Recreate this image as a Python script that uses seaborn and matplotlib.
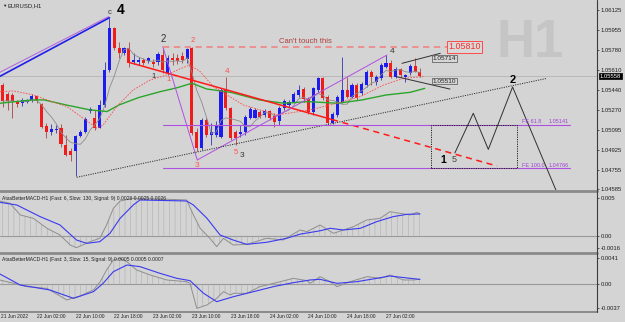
import numpy as np
import pandas as pd
import matplotlib
matplotlib.use("Agg")
import matplotlib.pyplot as plt
from matplotlib.lines import Line2D
from matplotlib.patches import Rectangle
import seaborn as sns

# ------------------------------------------------------------------ data
opens = [1.05481, 1.05401, 1.05396, 1.05333, 1.05324, 1.05333, 1.05353, 1.05387, 1.05317, 1.05130,
         1.05075, 1.05095, 1.05110, 1.04967, 1.04915, 1.04918, 1.05044, 1.05075, 1.05258, 1.05201,
         1.05115, 1.05310, 1.05610, 1.05973, 1.05802, 1.05753, 1.05796, 1.05682, 1.05676, 1.05696,
         1.05687, 1.05682, 1.05682, 1.05739, 1.05582, 1.05716, 1.05710, 1.05733, 1.05704, 1.05796,
         1.05081, 1.04938, 1.05181, 1.05052, 1.05052, 1.05038, 1.05438, 1.05281, 1.05081, 1.05058,
         1.05075, 1.05195, 1.05201, 1.05252, 1.05224, 1.05258, 1.05218, 1.05172, 1.05281, 1.05309,
         1.05338, 1.05395, 1.05447, 1.05361, 1.05252, 1.05438, 1.05538, 1.05381, 1.05152, 1.05224,
         1.05338, 1.05438, 1.05381, 1.05481, 1.05410, 1.05481, 1.05595, 1.05510, 1.05538, 1.05638,
         1.05667, 1.05553, 1.05615, 1.05553, 1.05581, 1.05647, 1.05590]
highs = [1.05496, 1.05424, 1.05410, 1.05353, 1.05367, 1.05361, 1.05401, 1.05396, 1.05324, 1.05153,
         1.05147, 1.05138, 1.05144, 1.05052, 1.04944, 1.05052, 1.05095, 1.05210, 1.05296, 1.05267,
         1.05353, 1.05682, 1.06059, 1.05982, 1.05853, 1.05810, 1.05853, 1.05753, 1.05725, 1.05716,
         1.05725, 1.05704, 1.05767, 1.05810, 1.05739, 1.05753, 1.05745, 1.05767, 1.05802, 1.05810,
         1.05110, 1.05195, 1.05195, 1.05152, 1.05172, 1.05452, 1.05553, 1.05295, 1.05095, 1.05138,
         1.05224, 1.05295, 1.05281, 1.05267, 1.05275, 1.05267, 1.05238, 1.05304, 1.05361, 1.05352,
         1.05418, 1.05481, 1.05467, 1.05381, 1.05467, 1.05553, 1.05553, 1.05395, 1.05246, 1.05395,
         1.05724, 1.05553, 1.05495, 1.05495, 1.05510, 1.05610, 1.05610, 1.05567, 1.05667, 1.05738,
         1.05696, 1.05638, 1.05630, 1.05573, 1.05658, 1.05710, 1.05624]
lows = [1.05296, 1.05267, 1.05195, 1.05296, 1.05304, 1.05324, 1.05338, 1.05324, 1.05110, 1.05024,
        1.05052, 1.05067, 1.04952, 1.04867, 1.04829, 1.04695, 1.05038, 1.05067, 1.05238, 1.05095,
        1.05110, 1.05296, 1.05596, 1.05782, 1.05710, 1.05739, 1.05639, 1.05659, 1.05653, 1.05653,
        1.05667, 1.05639, 1.05653, 1.05582, 1.05567, 1.05653, 1.05659, 1.05667, 1.05667, 1.05052,
        1.04915, 1.04924, 1.05038, 1.04966, 1.05038, 1.05029, 1.05267, 1.05009, 1.04966, 1.05038,
        1.05052, 1.05189, 1.05195, 1.05195, 1.05209, 1.05181, 1.05124, 1.05138, 1.05267, 1.05295,
        1.05324, 1.05381, 1.05338, 1.05229, 1.05224, 1.05424, 1.05352, 1.05138, 1.05144, 1.05209,
        1.05324, 1.05367, 1.05367, 1.05352, 1.05395, 1.05467, 1.05481, 1.05481, 1.05524, 1.05624,
        1.05538, 1.05538, 1.05553, 1.05510, 1.05567, 1.05590, 1.05553]
closes = [1.05344, 1.05344, 1.05344, 1.05317, 1.05353, 1.05344, 1.05387, 1.05344, 1.05124, 1.05075,
          1.05104, 1.05104, 1.04972, 1.04881, 1.04881, 1.05044, 1.05081, 1.05190, 1.05276, 1.05110,
          1.05310, 1.05610, 1.05968, 1.05796, 1.05753, 1.05796, 1.05667, 1.05696, 1.05693, 1.05667,
          1.05710, 1.05659, 1.05745, 1.05610, 1.05710, 1.05696, 1.05687, 1.05696, 1.05787, 1.05067,
          1.04938, 1.05181, 1.05052, 1.05081, 1.05138, 1.05438, 1.05281, 1.05023, 1.05023, 1.05081,
          1.05209, 1.05275, 1.05267, 1.05209, 1.05258, 1.05195, 1.05161, 1.05287, 1.05344, 1.05338,
          1.05401, 1.05438, 1.05361, 1.05246, 1.05452, 1.05538, 1.05372, 1.05152, 1.05229, 1.05381,
          1.05438, 1.05381, 1.05481, 1.05367, 1.05487, 1.05595, 1.05553, 1.05553, 1.05653, 1.05673,
          1.05553, 1.05615, 1.05567, 1.05567, 1.05647, 1.05595, 1.05558]

# slow moving average (green): bar index / price
green_idx = [-0.6, 6, 8.5, 13, 18, 21.5, 24, 28, 32.5, 36, 39, 42, 47, 53, 58, 63, 69, 74, 79, 84, 87]
green_val = [1.05324, 1.05353, 1.05353, 1.05310, 1.05267, 1.05253, 1.05310, 1.05373, 1.05424, 1.05458,
             1.05496, 1.05447, 1.05418, 1.05352, 1.05324, 1.05338, 1.05324, 1.05352, 1.05395, 1.05418,
             1.05452]
# red dotted average
reddot_idx = [-0.6, 2.2, 6.3, 9.7, 13.2, 16.6, 19.4, 20.7, 23.5, 26.9, 30.4, 33.8, 36.5, 38.6, 40.7,
              43.4, 49.6, 56.5, 63.4, 68.9, 73.7, 78.5, 82.6, 86.7]
reddot_val = [1.05424, 1.05430, 1.05396, 1.05344, 1.05296, 1.05195, 1.05110, 1.05138, 1.05296, 1.05439,
              1.05524, 1.05567, 1.05619, 1.05653, 1.05596, 1.05467, 1.05309, 1.05224, 1.05267, 1.05324,
              1.05381, 1.05481, 1.05538, 1.05553]
fast_ma_period = 5

# MACD (6,130,9)
m1_sig_idx = [-0.6, 2.9, 7.7, 11.8, 15.2, 17.3, 20.0, 22.1, 24.2, 26.9, 28.3, 37.9, 39.3, 42.1, 44.8,
              47.5, 50.3, 54.4, 58.5, 61.3, 65.4, 67.5, 70.2, 73.7, 77.1, 80.5, 83.3, 86.0]
m1_sig_val = [0.00439, 0.00404, 0.00251, 0.00141, -0.00057, -0.00101, -0.00079, 0.00031, 0.00229, 0.00404,
              0.00470, 0.00457, 0.00404, 0.00229, 0.00009, -0.00057, -0.00114, -0.00087, -0.00035, 0.00020,
              0.00064, 0.00097, 0.00075, 0.00097, 0.00185, 0.00251, 0.00281, 0.00286]
m1_main_idx = [-0.6, 1.5, 3.6, 6.3, 9.1, 11.8, 13.9, 15.2, 18.0, 20.0, 21.4, 22.8, 24.2, 26.9, 32.4,
               37.9, 39.3, 40.7, 42.7, 44.1, 45.5, 47.5, 50.3, 54.4, 57.8, 61.3, 62.7, 65.4, 68.2, 70.2,
               72.3, 75.0, 77.8, 79.8, 81.9, 84.0, 85.4, 86.0]
m1_main_val = [0.00457, 0.00426, 0.00273, 0.00229, 0.00097, 0.00009, -0.00123, -0.00158, -0.00079, -0.00035,
               0.00141, 0.00360, 0.00457, 0.00492, 0.00483, 0.00470, 0.00273, 0.00097, -0.00035, -0.00144,
               -0.00035, -0.00123, -0.00114, -0.00035, -0.00057, 0.00075, 0.00053, 0.00141, 0.00031, 0.00075,
               0.00119, 0.00206, 0.00229, 0.00316, 0.00294, 0.00273, 0.00308, 0.00286]

# MACD (3,15,9)
m2_sig_idx = [-0.6, 3.6, 9.7, 14.6, 18.7, 20.7, 22.8, 25.6, 28.3, 32.4, 35.9, 38.6, 41.4, 44.1, 47.6,
              51.7, 55.8, 59.9, 63.4, 65.4, 68.9, 73.0, 77.1, 79.8, 84.0, 86.0]
m2_sig_val = [0.00158, -0.00011, -0.00087, -0.00215, -0.00113, 0.00015, 0.00193, 0.00295, 0.00270, 0.00168,
              0.00091, 0.00056, -0.00138, -0.00266, -0.00189, -0.00113, -0.00036, 0.00025, 0.00066, 0.00076,
              0.00015, 0.00040, 0.00091, 0.00127, 0.00091, 0.00076]
m2_main_idx = [-0.6, 2.2, 4.9, 9.1, 13.2, 15.9, 18.7, 20.1, 21.4, 22.8, 24.2, 25.6, 27.6, 30.4, 33.8,
               37.9, 38.6, 40.0, 42.1, 44.1, 45.5, 46.9, 47.6, 50.3, 53.0, 57.2, 59.9, 62.7, 63.4, 65.4,
               67.5, 68.9, 71.6, 75.1, 77.8, 79.8, 82.6, 84.6, 86.0]
m2_main_val = [0.00066, 0.00015, -0.00036, -0.00062, -0.00240, -0.00179, -0.00087, 0.00040, 0.00219, 0.00372,
               0.00397, 0.00346, 0.00219, 0.00142, 0.00066, 0.00040, 0.00015, -0.00368, -0.00317, -0.00215,
               -0.00113, -0.00164, -0.00138, -0.00138, -0.00036, 0.00040, 0.00091, 0.00056, 0.00015, 0.00117,
               0.00040, -0.00036, 0.00040, 0.00117, 0.00091, 0.00142, 0.00066, 0.00066, 0.00076]

time_tick_pos = [-0.45, 7, 15, 23, 31, 39, 47, 55, 63, 71, 79]
time_tick_lab = ["21 Jun 2022", "22 Jun 02:00", "22 Jun 10:00", "22 Jun 18:00", "23 Jun 02:00",
                 "23 Jun 10:00", "23 Jun 18:00", "24 Jun 02:00", "24 Jun 10:00", "24 Jun 18:00",
                 "27 Jun 02:00"]
price_ticks = [1.06125, 1.05955, 1.05780, 1.05610, 1.05440, 1.05270, 1.05095, 1.04925, 1.04755, 1.04585]
m1_ticks = [0.005, 0.0, -0.0016]
m1_tick_lab = ["0.005", "0.00", "-0.0016"]
m2_ticks = [0.0041, 0.0, -0.0037]
m2_tick_lab = ["0.0041", "0.00", "-0.0037"]

last_price = 1.05558
resist_price = 1.05810
fe618_price = 1.05141
fe100_price = 1.04766
chan_hi_price = 1.05714
chan_lo_price = 1.05510
macd1_text = "AtasBetterMACD-H1 (Fast: 6, Slow: 130, Signal: 9) 0.0026 0.0025 0.0026"
macd2_text = "AtasBetterMACD-H1 (Fast: 3, Slow: 15, Signal: 9) 0.0005 0.0005 0.0007"

# drawn objects (bar index, price)
line_c_blue = ([-0.6, 22.0], [1.05555, 1.06059])
line_c_purple = ([-0.6, 21.8], [1.05590, 1.06068])
red_trend_solid = ([25.8, 67.9], [1.05678, 1.05184])
red_trend_dash = ([67.9, 101.9], [1.05184, 1.04785])
purple_down = ([33.0, 40.1], [1.05810, 1.04837])
purple_up = ([40.1, 79.2], [1.04837, 1.05738])
black_dotted = ([15.25, 112.2], [1.04688, 1.05538])
chan_hi_line = ([82.3, 90.2], [1.05667, 1.05753])
chan_lo_line = ([81.2, 92.2], [1.05552, 1.05446])
zigzag = ([93.2, 97.0, 100.1, 105.1, 114.9], [1.04897, 1.05238, 1.04928, 1.05464, 1.04493])
box_span = (88.2, 106.1)

# ------------------------------------------------------------------ style
sns.set_style("white")
BG = "#d4d4d4"
plt.rcParams["font.family"] = ["Liberation Sans", "DejaVu Sans"]
plt.rcParams["hatch.linewidth"] = 0.35
plt.rcParams["axes.facecolor"] = BG
plt.rcParams["figure.facecolor"] = BG

W, H = 625, 322
fig = plt.figure(figsize=(W / 100, H / 100), dpi=100)


def rect(x0, y0, x1, y1):
    return [x0 / W, 1 - y1 / H, (x1 - x0) / W, (y1 - y0) / H]


XR = 596.5
ax = fig.add_axes(rect(0, 0, XR, 190))
ax1 = fig.add_axes(rect(0, 193, XR, 252))
ax2 = fig.add_axes(rect(0, 254.5, XR, 311))
xlim = (-0.567, 122.4)
for a in (ax, ax1, ax2):
    a.set_facecolor(BG)
    a.set_xlim(*xlim)
    for s in a.spines.values():
        s.set_visible(False)
    a.yaxis.tick_right()
    a.tick_params(axis="y", which="both", length=1.6, width=0.5, pad=1.5,
                  labelsize=4.2, colors="#202020")
    a.tick_params(axis="x", which="both", length=0)
    a.set_xticks([])

ax.set_ylim(1.04579, 1.06211)
ax1.set_ylim(-0.00215, 0.00562)
ax2.set_ylim(-0.00409, 0.00456)

# ---------------- main price panel
idx = np.arange(len(closes))
df = pd.DataFrame({"i": idx, "o": opens, "h": highs, "l": lows, "c": closes})
df["bull"] = df["c"] >= df["o"]
df["ma_fast"] = df["c"].rolling(fast_ma_period, min_periods=1).mean()

# H1 watermark
ax.text(0.8885, 0.776, "H1", transform=ax.transAxes, fontsize=38, fontweight="bold",
        color="#c5c5c5", ha="center", va="center", zorder=0)

ax.axhline(last_price, color="#b4b4b4", lw=0.6, zorder=1)

bull_col, bear_col = "#1c1cf0", "#f01c1c"
wick_cols = np.where(df["bull"], "#3434b0", "#a84444")
ax.vlines(df["i"], df["l"], df["h"], colors=wick_cols, lw=0.6, zorder=2)
body_h = (df["c"] - df["o"]).where((df["c"] - df["o"]).abs() > 0.00003,
                                   np.sign(df["c"] - df["o"] + 1e-12) * 0.00003)
ax.bar(df["i"], body_h, bottom=df["o"], width=0.64,
       color=np.where(df["bull"], bull_col, bear_col), linewidth=0, zorder=2.2)

sns.lineplot(x=green_idx, y=green_val, ax=ax, color="#2aa52a", lw=1.0, zorder=2.5,
             estimator=None)
ax.plot(reddot_idx, reddot_val, color="#ff4a4a", lw=0.6, ls=(0, (2, 1.5)), zorder=2.5)
sns.lineplot(x=df["i"], y=df["ma_fast"], ax=ax, color="#8c8c8c", lw=0.6, zorder=2.4,
             estimator=None)

# drawn objects
ax.plot(*line_c_purple, color="#b060e0", lw=0.7, zorder=3)
ax.plot(*line_c_blue, color="#2020e8", lw=1.2, zorder=3)
ax.plot(*red_trend_solid, color="#ff1a1a", lw=1.1, zorder=3)
ax.plot(*red_trend_dash, color="#ff1a1a", lw=1.1, ls=(0, (4, 3)), zorder=3)
ax.plot(*purple_down, color="#b050e0", lw=0.7, zorder=3)
ax.plot(*purple_up, color="#b050e0", lw=0.7, zorder=3)
ax.plot(*black_dotted, color="#303030", lw=0.7, ls=(0, (1.2, 1.2)), zorder=3)
ax.plot([33.0, 91.5], [resist_price] * 2, color="#ee8a8a", lw=1.3, ls=(0, (3.5, 2.5)), zorder=3)
ax.plot([33.0, 117], [fe618_price] * 2, color="#b050e0", lw=0.8, zorder=3)
ax.plot([33.0, 117], [fe100_price] * 2, color="#b050e0", lw=0.8, zorder=3)
ax.add_patch(Rectangle((box_span[0], fe100_price), box_span[1] - box_span[0],
                       fe618_price - fe100_price, fill=False, ec="#202020", lw=0.7,
                       ls=(0, (1.2, 1.2)), zorder=3))
ax.plot(*zigzag, color="#303030", lw=0.7, zorder=3)
ax.plot(*chan_hi_line, color="#303030", lw=0.7, zorder=3)
ax.plot(*chan_lo_line, color="#303030", lw=0.7, zorder=3)

ax.text(62.3, 1.05853, "Can't touch this", fontsize=5.5, color="#b03c3c", ha="center",
        va="center", zorder=4)
ax.text(95.25, resist_price, f"{resist_price:.5f}", fontsize=6.4, color="#ff2a2a", ha="center",
        va="center", zorder=4,
        bbox=dict(boxstyle="square,pad=0.15", fc="#d9d9d9", ec="#ff4a4a", lw=0.7))
for p in (chan_hi_price, chan_lo_price):
    yy = p - 0.00006 if p == chan_hi_price else p + 0.00005
    ax.text(91.1, yy, f"{p:.5f}", fontsize=4.6, color="#202020", ha="center", va="center",
            zorder=4, bbox=dict(boxstyle="square,pad=0.15", fc="#d6d6d6", ec="#505050", lw=0.5))

for p, lab in ((fe618_price, "FE 61.8"), (fe100_price, "FE 100.0")):
    ax.text(107.0, p + 0.00002, lab, fontsize=4.0, color="#a040d8", ha="left", va="bottom", zorder=4)
    ax.text(112.6, p + 0.00002, f"{p:.5f}", fontsize=4.0, color="#a040d8", ha="left",
            va="bottom", zorder=4)

labels = [
    ("c", 22.1, 1.06102, "#333333", 5.5, "normal"),
    ("4", 24.3, 1.06125, "black", 10, "bold"),
    ("2", 33.1, 1.05873, "#333333", 7, "normal"),
    ("2", 39.2, 1.05859, "#ff5050", 5.5, "normal"),
    ("1", 31.0, 1.05558, "#333333", 5.5, "normal"),
    ("1", 34.1, 1.05524, "#ff5050", 5.5, "normal"),
    ("4", 46.2, 1.05595, "#ff5050", 6, "normal"),
    ("3", 40.1, 1.04788, "#ff5050", 6, "normal"),
    ("5", 48.1, 1.04899, "#ff5050", 5.5, "normal"),
    ("3", 49.3, 1.04873, "#333333", 6, "normal"),
    ("4", 80.2, 1.05767, "#333333", 6, "normal"),
    ("2", 105.2, 1.05524, "black", 8, "bold"),
    ("1", 90.8, 1.04837, "black", 7.5, "bold"),
    ("5", 93.0, 1.04837, "#444444", 6.5, "normal"),
]
for t, xi, yp, col, fs, fw in labels:
    ax.text(xi, yp, t, color=col, fontsize=fs, fontweight=fw, ha="center", va="center", zorder=5)

ax.set_yticks(price_ticks)
ax.set_yticklabels([f"{v:.5f}" for v in price_ticks])
ax.annotate(f"{last_price:.5f}", xy=(1.0, last_price), xycoords=("axes fraction", "data"),
            xytext=(2.2, 0), textcoords="offset points", ha="left", va="center",
            fontsize=4.2, color="white",
            bbox=dict(boxstyle="square,pad=0.15", fc="black", ec="black", lw=0.5),
            annotation_clip=False, zorder=6)

# ---------------- MACD panels
for a, si, sv, mi, mv, ticks, tlab, txt in (
        (ax1, m1_sig_idx, m1_sig_val, m1_main_idx, m1_main_val, m1_ticks, m1_tick_lab, macd1_text),
        (ax2, m2_sig_idx, m2_sig_val, m2_main_idx, m2_main_val, m2_ticks, m2_tick_lab, macd2_text)):
    a.axhline(0, color="#9a9a9a", lw=0.8, zorder=1)
    a.fill_between(mi, 0, mv, facecolor="none", edgecolor="#a9a9a9", hatch="|||", lw=0,
                   zorder=1.5)
    sns.lineplot(x=mi, y=mv, ax=a, color="#8f8f8f", lw=0.7, estimator=None, zorder=2)
    sns.lineplot(x=si, y=sv, ax=a, color="#3a3af0", lw=0.8, estimator=None, zorder=2.5)
    a.set_yticks(ticks)
    a.set_yticklabels(tlab)
    a.text(0.003, 0.91, txt, transform=a.transAxes, fontsize=3.6, color="#202020",
           ha="left", va="center")
    a.set_xlabel("")
    a.set_ylabel("")

ax.set_xlabel("")
ax.set_ylabel("")

ax2.set_xticks(time_tick_pos)
ax2.set_xticklabels(time_tick_lab)
ax2.tick_params(axis="x", length=1.8, width=0.5, direction="out", pad=0.6,
                labelsize=3.5, colors="#202020")
for lab in ax2.get_xticklabels():
    lab.set_ha("left")

# separators and price scale line
for yy, lw in ((191.3, 2.0), (253.3, 2.0), (311.6, 1.4)):
    fig.add_artist(Line2D([0, XR / W], [1 - yy / H] * 2, color="#8a8a8a", lw=lw))
fig.add_artist(Line2D([XR / W] * 2, [1 - 312 / H, 1.0], color="#3c3c3c", lw=0.8))

fig.text(2 / W, 1 - 5.5 / H, "\u25bc", fontsize=3.2, color="#202020", va="center", ha="left")
fig.text(7 / W, 1 - 5.5 / H, "EURUSD,H1", fontsize=4.2, color="#202020", va="center", ha="left")

fig.savefig("out.png", dpi=100, facecolor=BG)
